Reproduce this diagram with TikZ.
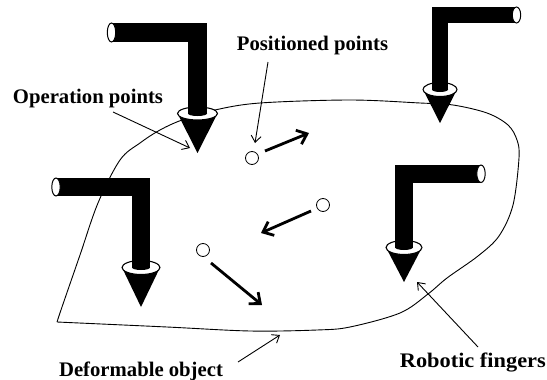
\documentclass[tikz,border=0pt]{standalone}
\usepackage{fontspec}
\setmainfont{Liberation Serif}
\usetikzlibrary{arrows.meta}

% One robotic finger: an L-shaped black rod ending in a cone.
% #1 rod centre x, #2 top y of the horizontal rod, #3 rod thickness,
% #4 centre x of the open rod end, #5 centre y of the cone's top face,
% #6/#7 radii of the cone's top face, #8 y of the cone tip
\newcommand\drawfinger[8]{%
  \fill (#1-#6,#5) -- (#1,#8) -- (#1+#6,#5) -- cycle;
  \filldraw[fill=white, line width=1.1] (#1,#5) ellipse[x radius=#6, y radius=#7];
  \fill (#1-#3/2,#2) rectangle (#1+#3/2,#5);
  \fill (#1,#5) ellipse[x radius=#3/2, y radius=2.5];
  \fill (#4,#2) rectangle (#1,#2+#3);
  \filldraw[fill=white, line width=1.0] (#4,#2+#3/2) ellipse[x radius=4.2, y radius=#3/2];
}

\tikzset{
  label/.style={font=\fontsize{20.7}{24}\selectfont\bfseries, inner sep=0pt},
  point/.style={circle, draw, fill=white, line width=0.8, minimum size=13pt, inner sep=0pt},
  motion/.style={line width=2.8, -{Straight Barb[length=9pt, width=15pt]}},
  pointer/.style={line width=0.9, -{Straight Barb[length=6.5pt, width=10pt]}},
  outline/.style={line width=0.9},
}

\begin{document}
\begin{tikzpicture}[x=1pt, y=-1pt]
\useasboundingbox (0,0) rectangle (547,380);

% deformable object
\draw[outline] plot[smooth, tension=0.55] coordinates {
  (57,322) (62,307) (80,255) (98,203) (120,160) (140,143) (160,130) (182,120)
  (215,110) (260,103) (350,100) (420,103) (453,105) (487,113) (508,125)
  (517,140) (519,158) (513,205) (499,236) (478,256) (447,278) (428,294)
  (400,313) (350,327) (317,330) (250,331) (167,327) (57,322)};

% robotic fingers
\drawfinger{197.5}{23}{19}{111.5}{113.5}{20}{6.5}{153}
\drawfinger{440}{7}{16}{516.5}{89.5}{17}{7}{123}
\drawfinger{141}{178}{18}{56}{267.5}{19}{7}{307}
\drawfinger{404}{165}{17.5}{481}{247.5}{18}{7}{282}

% positioned points and their motions
\node[point] (p1) at (252,158) {};
\node[point] (p2) at (323,205) {};
\node[point] (p3) at (203,250) {};
\coordinate (m1a) at (265,151);
\coordinate (m1b) at (309,133);
\coordinate (m2a) at (311,211);
\coordinate (m2b) at (261,233);
\coordinate (m3a) at (211,263);
\coordinate (m3b) at (262,305);
\draw[motion] (m1a) -- (m1b);
\draw[motion] (m2a) -- (m2b);
\draw[motion] (m3a) -- (m3b);

% labels
\node[label, anchor=base] (op) at (88,103) {Operation points};
\node[label, anchor=base] (pp) at (312.5,50) {Positioned points};
\node[label, anchor=base] (do) at (141,376) {Deformable object};
\node[label, anchor=base east] (rf) at (546,367) {\scalebox{1.08}[1]{Robotic fingers}};

\coordinate (opTip) at (190,148);
\coordinate (opTail) at (113,112);
\coordinate (ppTip) at (255,143);
\coordinate (ppTail) at (268,62);
\coordinate (doTip) at (280,335);
\coordinate (doTail) at (238,362);
\coordinate (rfTip) at (417,282);
\coordinate (rfTail) at (478,347);
\draw[pointer] (opTail) -- (opTip);
\draw[pointer] (ppTail) -- (ppTip);
\draw[pointer] (doTail) -- (doTip);
\draw[pointer] (rfTail) -- (rfTip);
\end{tikzpicture}
\end{document}
